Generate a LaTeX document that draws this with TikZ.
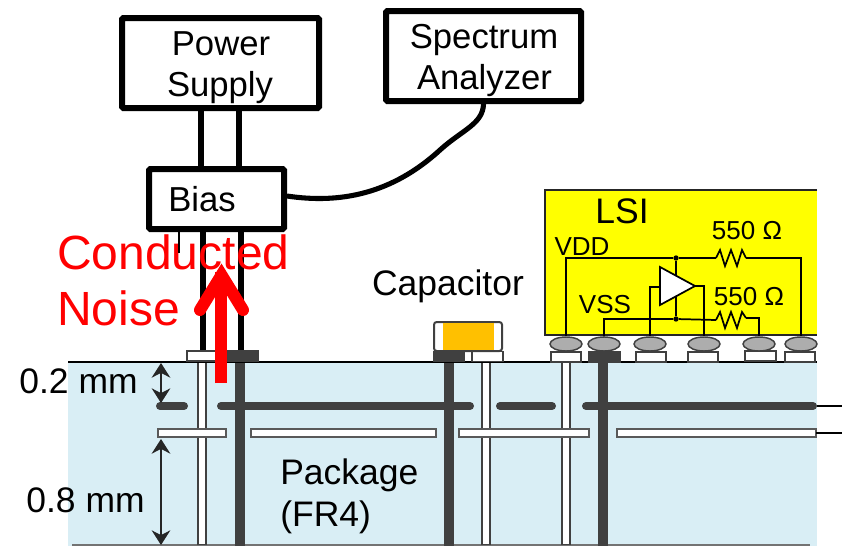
\documentclass[tikz,border=0pt]{standalone}
\usepackage{fontspec}
\setmainfont{Liberation Sans}
\usetikzlibrary{arrows.meta,shapes.geometric}
\definecolor{fr4}{HTML}{D9EEF5}
\definecolor{metal}{HTML}{404040}
\definecolor{chip}{HTML}{FFFF00}
\definecolor{ceramic}{HTML}{FFC000}
\tikzset{%
   big/.style={font=\fontsize{26.6}{31.5}\selectfont, inner sep=0pt},
   mid/.style={font=\fontsize{26}{31.5}\selectfont, inner sep=0pt},
   small/.style={font=\fontsize{19.5}{24}\selectfont, inner sep=0pt},
   huge/.style={font=\fontsize{36}{44}\selectfont, inner sep=0pt, text=red},
   instr/.style={draw=black, line width=4.5pt, fill=white, rounded corners=1pt},
   cable/.style={draw=black, line width=5pt},
   ckt/.style={draw=black, line width=1.3pt},
   pad/.style={draw=metal, line width=1.3pt, fill=white, minimum width=23pt, minimum height=7.5pt, inner sep=0pt},
   darkpad/.style={pad, fill=metal},
   bump/.style={ellipse, draw=metal, line width=1.1pt, fill=black!32, minimum width=24pt, minimum height=10.5pt, inner sep=0pt},
   dot/.style={circle, inner sep=0pt, minimum size=4pt, fill=black},
   dim/.style={draw=black!85, line width=1.1pt, {Stealth[length=11pt,width=14pt]}-{Stealth[length=11pt,width=14pt]}},
}
\begin{document}
\begin{tikzpicture}[x=.75pt, y=-.75pt]
   \useasboundingbox (0,0) rectangle (842,546);

   % substrate
   \fill[fr4] (68,362) rectangle (817,546);
   \draw[black!55, line width=1pt] (72,545) -- (810,545);
   \foreach \x in {202,486,566} {
      \draw[metal, line width=7.8pt] (\x,362) -- (\x,545);
      \draw[white, line width=4.5pt] (\x,363) -- (\x,544);
   }
   \foreach \x in {240,449,603}
      \draw[metal, line width=7.5pt] (\x,362) -- (\x,546);
   \foreach \a/\b in {160/184,221/470,500/552,586/813}
      \draw[metal, line width=6pt, line cap=round] (\a,406) -- (\b,406);
   \foreach \a/\b in {158/226,251/436,459/589,617/816}
      \draw[black!65, line width=1.2pt, fill=white] (\a,429) rectangle (\b,437);
   \coordinate (gnd) at (817,406);
   \coordinate (sig) at (816,433);
   \draw[black, line width=1.2pt] (gnd) -- (842,406);
   \draw[black, line width=1.2pt] (sig) -- (842,433);
   \draw[black, line width=1.5pt] (68,362) -- (817,362);

   % pads
   \node[pad, minimum width=30pt] (pl) at (207,356) {};
   \node[darkpad] (pr) at (243,356) {};
   \node[darkpad] (cl) at (449,356.5) {};
   \node[pad] (cr) at (487.5,356.5) {};
   \foreach \n/\x/\y in {p1/566/357,p3/651/357,p4/703/357,p5/760.5/356,p6/800/357}
      \node[pad] (\n) at (\x,\y) {};
   \node[darkpad] (p2) at (604.5,357) {};

   % capacitor
   \draw[metal, line width=1.5pt, fill=white, rounded corners=2pt] (434,322) rectangle (502,351);
   \fill[ceramic] (443,323) rectangle (494,350);

   % LSI
   \fill[chip] (545,190) rectangle (817,335);
   \draw[black!85, line width=1.5pt] (817,190) -- (545,190) -- (545,335) -- (817,335);
   \foreach \n/\x in {b1/566,b2/604,b3/650,b4/704,b5/759,b6/801}
      \node[bump] (\n) at (\x,344) {};
   \node[dot] (jt) at (676,258) {};
   \node[dot] (jb) at (676,319) {};
   \coordinate (r1a) at (716,258);
   \coordinate (r1b) at (746,258);
   \coordinate (r2a) at (716,320);
   \coordinate (r2b) at (746,318);
   \coordinate (ampin) at (660,287);
   \coordinate (ampout) at (695,286);
   \draw[ckt] (b1.north) |- (jt) -- (r1a);
   \draw[ckt] (r1b) -| (b6.north);
   \draw[ckt] (b2.north) |- (jb) -- (r2a);
   \draw[ckt] (r2b) -| (b5.north);
   \draw[ckt] (jt) -- (jb);
   \draw[ckt] (ampin) -| (b3.north);
   \draw[ckt] (ampout) -| (b4.north);
   \draw[ckt, fill=white, line join=miter] (660,267) -- (ampout) -- (660,305) -- cycle;
   \foreach \r in {r1,r2}
      \draw[ckt] (\r a) -- ++(4,-8) -- ++(5,16) -- ++(6,-16) -- ++(6,16) -- ++(5,-16) -- (\r b);

   \node[small, anchor=base] (vdd) at (582,255) {VDD};
   \node[small, anchor=base] (vss) at (605,313) {VSS};
   \node[small, anchor=base] (rtop) at (747,239) {550 Ω};
   \node[small, anchor=base] (rbot) at (749,305) {550 Ω};
   \node[big, anchor=base] (lsi) at (622,223) {LSI};

   % instruments
   \node[instr, minimum width=147.75pt, minimum height=67.5pt] (power) at (220.5,63) {};
   \node[mid, anchor=base] (powertext) at (221,55) {Power};
   \node[mid, anchor=base] (supplytext) at (220,96.5) {Supply};
   \node[instr, minimum width=146.25pt, minimum height=67.5pt] (spectrum) at (483.5,56) {};
   \node[mid, anchor=base] (spectrumtext) at (484,48) {Spectrum};
   \node[mid, anchor=base] (analyzertext) at (484.5,89) {Analyzer};
   \node[instr, minimum width=101.25pt, minimum height=45pt] (bias) at (216.5,199) {};
   \node[mid, anchor=base] (biastext) at (202,211) {Bias};
   \coordinate (wa) at (201,0);
   \coordinate (wb) at (239,0);
   \coordinate (wc) at (203,0);
   \coordinate (wd) at (241,0);
   \coordinate (we) at (179,253);
   \draw[cable] (power.south -| wa) -- (bias.north -| wa);
   \draw[cable] (power.south -| wb) -- (bias.north -| wb);
   \draw[cable] (bias.south -| wc) -- (pl.north -| wc);
   \draw[cable] (bias.south -| wd) -- (pr.north -| wd);
   \draw[cable, line width=3.8pt] (bias.east |- 0,196) .. controls (340,204) and (392,194) .. (440,150)
      .. controls (462,130) and (483,124) .. (spectrum.south);

   % labels
   \node[big, anchor=base] (cap) at (448,295) {Capacitor};
   \node[big, anchor=base west] (pkg) at (280,484) {Package};
   \node[big, anchor=base west] (fr) at (280,526) {(FR4)};
   \node[big, anchor=base] (t1) at (78.5,393) {0.2 mm};
   \node[big, anchor=base] (t2) at (85.5,512) {0.8 mm};
   \coordinate (da) at (161,363);
   \coordinate (db) at (161,403);
   \coordinate (dc) at (161,439);
   \coordinate (dd) at (161,545);
   \draw[dim] (da) -- (db);
   \draw[dim] (dc) -- (dd);

   % noise
   \coordinate (na) at (221,383);
   \coordinate (nb) at (221,272);
   \draw[red, line width=9pt] (na) -- (nb);
   \draw[red, line width=9pt, line cap=round, line join=miter] (200,310) -- (221.5,275) -- (243,310);
   \node[huge, anchor=base west] (nc) at (57,269) {Conducted};
   \node[huge, anchor=base west] (nd) at (57,325) {Noise};
   \draw[black, line width=2pt] (bias.south -| we) -- (we);
\end{tikzpicture}
\end{document}
